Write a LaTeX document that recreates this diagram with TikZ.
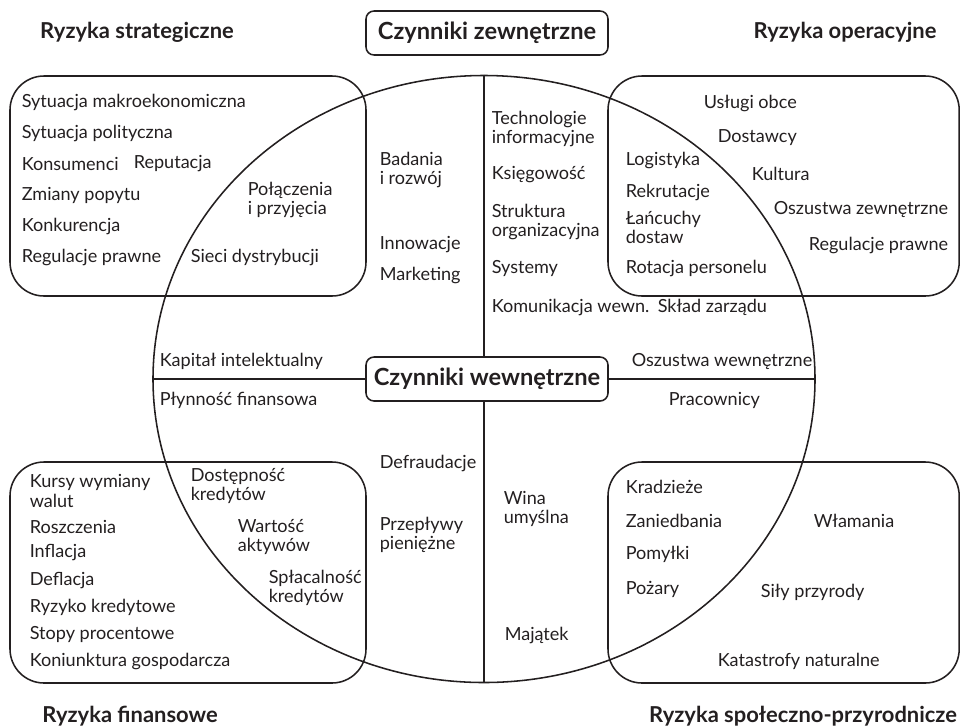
\documentclass[tikz,border=0pt]{standalone}
\usepackage{fontspec}
\setmainfont{Lato}
\usetikzlibrary{shapes.geometric}

\definecolor{ink}{HTML}{231F20}

\begin{document}
\begin{tikzpicture}[
    color=ink, line width=1.1bp,
    item/.style={anchor=west, inner sep=0pt, align=left, font=\fontsize{12.85}{13.6}\selectfont},
    heading/.style={font=\fontsize{15.6}{18}\selectfont\bfseries},
    factor/.style={draw, rounded corners=0.2cm, minimum width=6.05cm, minimum height=1.1cm, font=\fontsize{16.8}{19}\selectfont\bfseries}
]
    \useasboundingbox (0,0) rectangle (24.025,-18.175);

    % Corner boxes
    \draw[rounded corners=0.85cm] (0.25,-1.9) rectangle (9.15,-7.4);
    \draw[rounded corners=0.85cm] (15.2,-1.9) rectangle (23.98,-7.4);
    \draw[rounded corners=0.85cm] (0.25,-11.55) rectangle (9.15,-17.075);
    \draw[rounded corners=0.85cm] (15.2,-11.55) rectangle (23.98,-17.075);

    % Ellipse with the two axes
    \node[draw, ellipse, inner sep=0pt, minimum width=16.55cm, minimum height=15.175cm] (circ) at (12.1,-9.475) {};
    \node[factor] (outer) at (12.175,-0.825) {Czynniki zewnętrzne};
    \node[factor] (inner) at (12.175,-9.475) {Czynniki wewnętrzne};
    \draw (circ.west) -- (inner.west);
    \draw (inner.east) -- (circ.east);
    \draw (circ.north) -- (circ.north |- inner.north);
    \draw (circ.south |- inner.south) -- (circ.south);

    % Headings
    \node[heading] (hstrat) at (3.425,-0.8) {Ryzyka strategiczne};
    \node[heading] (hoper) at (21.125,-0.8) {Ryzyka operacyjne};
    \node[heading] (hfin) at (3.25,-17.9) {Ryzyka finansowe};
    \node[heading] (hspol) at (20.075,-17.9) {Ryzyka społeczno-przyrodnicze};

    % Strategic risks
    \node[item] (makro) at (0.525,-2.55) {Sytuacja makroekonomiczna};
    \node[item] (polit) at (0.525,-3.325) {Sytuacja polityczna};
    \node[item] (kons) at (0.525,-4.1) {Konsumenci};
    \node[item] (reput) at (3.325,-4.1) {Reputacja};
    \node[item] (popyt) at (0.525,-4.875) {Zmiany popytu};
    \node[item] (konk) at (0.525,-5.65) {Konkurencja};
    \node[item] (regs) at (0.525,-6.425) {Regulacje prawne};
    \node[item] (sieci) at (4.75,-6.425) {Sieci dystrybucji};
    \node[item] (polacz) at (6.175,-5.0) {Połączenia\\i przyjęcia};
    \node[item] (badania) at (9.475,-4.25) {Badania\\i rozwój};
    \node[item] (innow) at (9.475,-6.125) {Innowacje};
    \node[item] (market) at (9.475,-6.875) {Marketing};

    % Operational risks
    \node[item] (techn) at (12.275,-3.225) {Technologie\\informacyjne};
    \node[item] (ksieg) at (12.275,-4.375) {Księgowość};
    \node[item] (strukt) at (12.275,-5.55) {Struktura\\organizacyjna};
    \node[item] (syst) at (12.275,-6.7) {Systemy};
    \node[item] (komun) at (12.275,-7.675) {Komunikacja wewn.};
    \node[item] (sklad) at (16.425,-7.675) {Skład zarządu};
    \node[item] (uslugi) at (17.575,-2.575) {Usługi obce};
    \node[item] (dostawcy) at (17.925,-3.45) {Dostawcy};
    \node[item] (logist) at (15.625,-4.0) {Logistyka};
    \node[item] (kultura) at (18.775,-4.35) {Kultura};
    \node[item] (rekrut) at (15.625,-4.8) {Rekrutacje};
    \node[item] (oszz) at (19.325,-5.225) {Oszustwa zewnętrzne};
    \node[item] (lancuchy) at (15.625,-5.675) {Łańcuchy\\dostaw};
    \node[item] (rego) at (20.2,-6.125) {Regulacje prawne};
    \node[item] (rotacja) at (15.625,-6.7) {Rotacja personelu};

    % Along the horizontal axis
    \node[item] (kapital) at (3.975,-9.025) {Kapitał intelektualny};
    \node[item] (plynnosc) at (3.975,-10.0) {Płynność finansowa};
    \node[item] (oszw) at (15.775,-9.025) {Oszustwa wewnętrzne};
    \node[item] (pracown) at (16.7,-10.0) {Pracownicy};

    % Financial risks
    \node[item] (kursy) at (0.725,-12.275) {Kursy wymiany\\walut};
    \node[item] (roszcz) at (0.725,-13.175) {Roszczenia};
    \node[item] (infl) at (0.725,-13.825) {Inflacja};
    \node[item] (defl) at (0.725,-14.525) {Deflacja};
    \node[item] (kredyt) at (0.725,-15.175) {Ryzyko kredytowe};
    \node[item] (stopy) at (0.725,-15.85) {Stopy procentowe};
    \node[item] (koniunk) at (0.725,-16.525) {Koniunktura gospodarcza};
    \node[item] (dostep) at (4.75,-12.15) {Dostępność\\kredytów};
    \node[item] (wartosc) at (5.925,-13.425) {Wartość\\aktywów};
    \node[item] (splac) at (6.7,-14.7) {Spłacalność\\kredytów};
    \node[item] (defraud) at (9.475,-11.575) {Defraudacje};
    \node[item] (przepl) at (9.475,-13.375) {Przepływy\\pieniężne};

    % Social and natural risks
    \node[item] (wina) at (12.575,-12.725) {Wina\\umyślna};
    \node[item] (majatek) at (12.6,-15.875) {Majątek};
    \node[item] (kradz) at (15.625,-12.175) {Kradzieże};
    \node[item] (zaniedb) at (15.625,-13.025) {Zaniedbania};
    \node[item] (pomylki) at (15.625,-13.85) {Pomyłki};
    \node[item] (pozary) at (15.625,-14.725) {Pożary};
    \node[item] (wlamania) at (20.325,-13.025) {Włamania};
    \node[item] (sily) at (19.0,-14.8) {Siły przyrody};
    \node[item] (katastr) at (17.925,-16.525) {Katastrofy naturalne};
\end{tikzpicture}
\end{document}
